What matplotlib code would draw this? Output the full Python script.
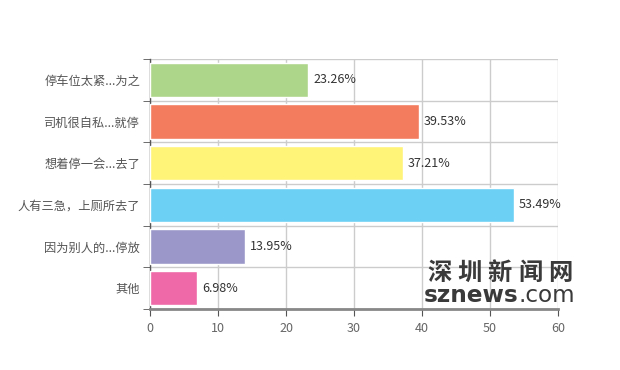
import numpy as np
import matplotlib.pyplot as plt

plt.rcParams['font.family'] = ['Noto Sans CJK SC', 'DejaVu Sans']

# data (top to bottom)
categories = ['停车位太紧...为之', '司机很自私...就停', '想着停一会...去了',
              '人有三急，上厕所去了', '因为别人的...停放', '其他']
values = [23.26, 39.53, 37.21, 53.49, 13.95, 6.98]
colors = ['#aed68a', '#f47c5e', '#fff378', '#6cd0f5', '#9b98c9', '#ef68a7']
xticks = [0, 10, 20, 30, 40, 50, 60]

W, H = 620, 370
fig = plt.figure(figsize=(W / 100, H / 100), dpi=100)
ax = fig.add_axes([150 / W, 1 - 309 / H, 408 / W, 250 / H])

y = np.arange(len(categories))
ax.barh(y, values, height=0.82, color=colors, edgecolor='white', linewidth=1, zorder=3)
for yi, v in zip(y, values):
    ax.text(v + 0.75, yi, f'{v:.2f}%', va='center', ha='left', fontsize=9, color='#333333')

ax.set_xlim(0, 60)
ax.set_ylim(len(categories) - 0.5, -0.5)
ax.set_xticks(xticks)
ax.set_yticks(y)
ax.set_yticklabels(categories, fontsize=8.8, color='#555555')
ax.tick_params(axis='y', length=0, pad=7)
ax.tick_params(axis='x', length=5, color='#555555', labelcolor='#666666', labelsize=9, pad=4)

# grid: vertical at ticks, horizontal at category boundaries
ax.set_yticks(np.arange(len(categories) + 1) - 0.5, minor=True)
ax.tick_params(axis='y', which='minor', length=5, color='#555555', direction='out')
ax.grid(True, axis='x', color='#cccccc', linewidth=1, zorder=0)
ax.grid(True, axis='y', which='minor', color='#cccccc', linewidth=1, zorder=0)
ax.grid(False, axis='y', which='major')

for s in ['top', 'right']:
    ax.spines[s].set_visible(False)
ax.spines['left'].set_color('#555555')
ax.spines['left'].set_linewidth(1)
ax.spines['bottom'].set_color('#888888')
ax.spines['bottom'].set_linewidth(2)

# watermark
wm = '#3a3a3a'
for i, ch in enumerate('深圳新闻网'):
    fig.text((424 + 15 + i * 30.4) / W, 1 - 280 / H, ch, fontsize=17.5, fontweight='bold',
             color=wm, ha='center', va='baseline')

fig.canvas.draw()
r = fig.canvas.get_renderer()
size = 22
t1 = fig.text(424 / W, 1 - 302 / H, 'sznews', fontsize=size, fontweight='bold', color=wm,
              ha='left', va='baseline', family='DejaVu Sans')
w1 = t1.get_window_extent(r).width
t2 = fig.text((424 + w1) / W, 1 - 302 / H, '.com', fontsize=size, color=wm,
              ha='left', va='baseline', family='DejaVu Sans')
w2 = t2.get_window_extent(r).width
k = 151 / (w1 + w2)
t1.set_fontsize(size * k)
t2.set_fontsize(size * k)
t2.set_x((424 + w1 * k) / W)

fig.savefig('out.png', dpi=100)
